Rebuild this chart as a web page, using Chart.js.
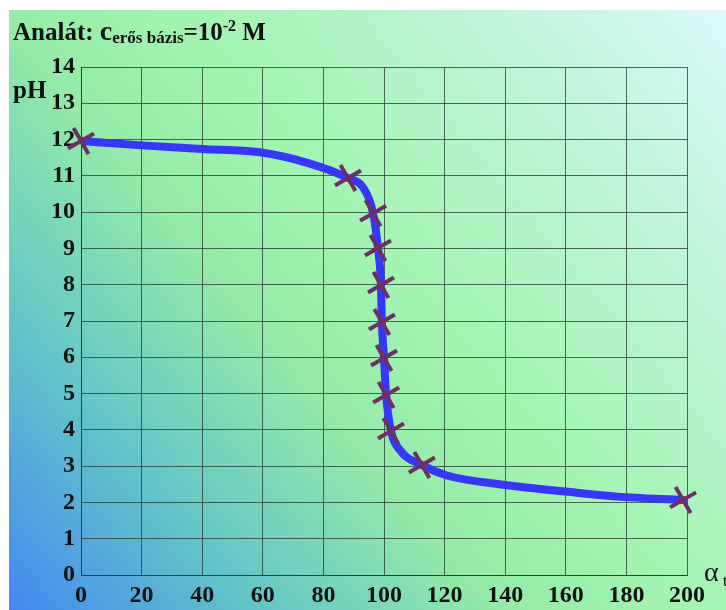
<!DOCTYPE html>
<html lang="hu">
<head>
    <meta charset="UTF-8">
    <title>Titrálási görbe</title>
    <script src="https://cdn.jsdelivr.net/npm/chart.js"></script>
    <style>
        body { margin: 0; background: #fff; }
        canvas { display: block; }
    </style>
</head>
<body>
    <canvas id="myChart" width="726" height="610"></canvas>

    <script>
        // measured points (crosses)
        const markerAlpha = [0, 88.1, 96.4, 98, 99, 99.3, 100, 100.7, 102.3, 112.5, 198.7];
        const markerPH = [11.96, 10.94, 9.97, 9.01, 7.99, 6.97, 5.98, 4.96, 3.97, 3.03, 2.07];

        // the drawn curve
        const curveAlpha = [0, 20, 40, 59, 75, 88.1, 93, 96.4, 98, 99, 99.3, 100, 100.7, 102.3, 105.3, 112.5, 120.5, 140, 160, 177, 198.7];
        const curvePH = [11.96, 11.84, 11.74, 11.65, 11.35, 10.94, 10.69, 9.97, 9.01, 7.99, 6.97, 5.98, 4.96, 3.97, 3.44, 3.03, 2.75, 2.48, 2.3, 2.16, 2.07];

        const xTicks = [0, 20, 40, 60, 80, 100, 120, 140, 160, 180, 200];
        const yTicks = [0, 1, 2, 3, 4, 5, 6, 7, 8, 9, 10, 11, 12, 13, 14];

        const serif = '"Liberation Serif", "Times New Roman", serif';
        const gridColor = 'rgba(35, 55, 45, 0.75)';

        // gradient background + texts
        const decor = {
            id: 'decor',
            beforeDraw(chart) {
                const c = chart.ctx;
                const w = chart.width, h = chart.height;
                c.save();
                c.fillStyle = '#ffffff';
                c.fillRect(0, 0, w, h);
                const g = c.createLinearGradient(9, h, w, 10);
                g.addColorStop(0, '#4488f2');
                g.addColorStop(0.2, '#62c4c8');
                g.addColorStop(0.4, '#94eaa8');
                g.addColorStop(0.55, '#a2f4b2');
                g.addColorStop(0.75, '#b8f4d0');
                g.addColorStop(1, '#dcf8fa');
                c.fillStyle = g;
                c.fillRect(9, 10, w - 9, h - 10);
                c.restore();
            },
            afterDraw(chart) {
                const c = chart.ctx;
                c.save();
                c.fillStyle = '#111';
                c.textBaseline = 'alphabetic';
                // title
                let x = 13;
                c.font = 'bold 25px ' + serif;
                c.fillText('Analát: ', x, 40);
                x += c.measureText('Analát: ').width;
                c.font = 'bold 28px ' + serif;
                c.fillText('c', x, 40);
                x += c.measureText('c').width;
                c.font = 'bold 17px ' + serif;
                c.fillText('erős bázis', x, 43);
                x += c.measureText('erős bázis').width;
                c.font = 'bold 25px ' + serif;
                c.fillText('=10', x, 40);
                x += c.measureText('=10').width;
                c.font = 'bold 16px ' + serif;
                c.fillText('-2', x, 31);
                x += c.measureText('-2').width;
                c.font = 'bold 25px ' + serif;
                c.fillText(' M', x, 40);

                // axis names
                c.font = 'bold 25px ' + serif;
                c.fillText('pH', 13, 98);
                c.font = '28px ' + serif;
                c.fillText('α', 704, 581);
                c.font = '16px ' + serif;
                c.fillText('t', 723, 586);
                c.restore();
            }
        };

        const ctx = document.getElementById('myChart').getContext('2d');
        const myChart = new Chart(ctx, {
            type: 'scatter',
            data: {
                datasets: [{
                    label: 'görbe',
                    order: 2,
                    data: curveAlpha.map((a, i) => ({ x: a, y: curvePH[i] })),
                    showLine: true,
                    borderColor: 'rgb(55, 55, 250)',
                    borderWidth: 8,
                    borderCapStyle: 'round',
                    cubicInterpolationMode: 'monotone',
                    pointRadius: 0,
                    fill: false
                }, {
                    label: 'mért pontok',
                    order: 1,
                    clip: false,
                    data: markerAlpha.map((a, i) => ({ x: a, y: markerPH[i] })),
                    showLine: false,
                    pointStyle: 'cross',
                    rotation: -30,
                    pointRadius: 15,
                    pointBorderWidth: 4,
                    pointBorderColor: 'rgb(110, 48, 100)',
                    pointBackgroundColor: 'rgb(110, 48, 100)'
                }]
            },
            options: {
                responsive: false,
                animation: false,
                devicePixelRatio: 1,
                layout: { padding: { top: 67, right: 39, bottom: 0, left: 0 } },
                plugins: {
                    legend: { display: false },
                    tooltip: { enabled: false }
                },
                scales: {
                    x: {
                        type: 'linear',
                        min: 0,
                        max: 200,
                        afterBuildTicks: s => { s.ticks = xTicks.map(v => ({ value: v })); },
                        afterFit: s => { s.height = 35; },
                        grid: { color: gridColor, lineWidth: 1, drawTicks: false },
                        border: { color: gridColor, width: 1 },
                        ticks: {
                            padding: 6,
                            color: '#111',
                            maxRotation: 0,
                            font: { family: serif, size: 24, weight: 'bold' }
                        }
                    },
                    y: {
                        type: 'linear',
                        min: 0,
                        max: 14,
                        afterBuildTicks: s => { s.ticks = yTicks.map(v => ({ value: v })); },
                        afterFit: s => { s.width = 81; },
                        grid: { color: gridColor, lineWidth: 1, drawTicks: false },
                        border: { color: gridColor, width: 1 },
                        ticks: {
                            padding: 6,
                            color: '#111',
                            font: { family: serif, size: 24, weight: 'bold' }
                        }
                    }
                }
            },
            plugins: [decor]
        });
    </script>
</body>
</html>
